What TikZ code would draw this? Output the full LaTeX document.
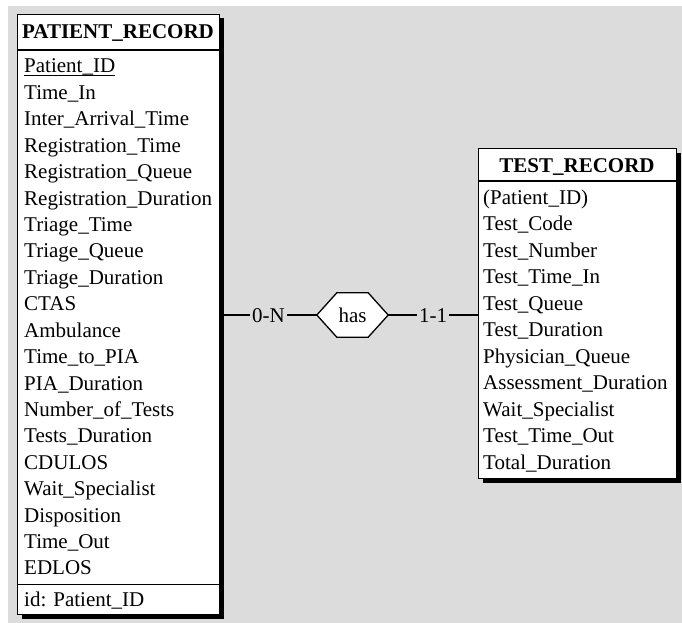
\documentclass[tikz,border=0pt]{standalone}
\usepackage{fontspec}
\setmainfont{Liberation Serif}
\usetikzlibrary{calc}
\definecolor{canvas}{RGB}{220,220,220}
\tikzset{
  erline/.style={line width=1.3pt, draw=black},
  entity/.style={erline, fill=white, inner sep=0pt, anchor=north west},
  shade/.style={fill=black},
  txt/.style={inner sep=0pt, text height=14pt, text depth=0pt,
              font=\fontsize{21}{25}\selectfont},
  attr/.style={txt, anchor=west},
  etitle/.style={txt, font=\fontsize{21}{25}\selectfont\bfseries},
  card/.style={txt, fill=canvas, inner xsep=2pt},
  relframe/.style={inner sep=0pt, minimum width=71pt, minimum height=44pt},
}
\begin{document}
\begin{tikzpicture}[x=1pt,y=-1pt]
\useasboundingbox (0,0) rectangle (682,623);
\fill[canvas] (8,6) rectangle (682,623);

% ---------- PATIENT_RECORD ----------
\fill[shade] (21.5,18.5) rectangle (223.5,618.5);
\node[entity, minimum width=202pt, minimum height=600pt] (pr) at (17,14) {};
\draw[erline] ($(pr.north west)+(0,36)$) -- ($(pr.north east)+(0,36)$);
\draw[erline] ($(pr.south west)+(0,-31)$) -- ($(pr.south east)+(0,-31)$);
\node[etitle] (prtitle) at (118,32) {PATIENT\_RECORD};
\foreach \t [count=\i from 0] in {Patient\_ID, Time\_In, Inter\_Arrival\_Time,
    Registration\_Time, Registration\_Queue, Registration\_Duration,
    Triage\_Time, Triage\_Queue, Triage\_Duration, CTAS, Ambulance,
    Time\_to\_PIA, PIA\_Duration, Number\_of\_Tests, Tests\_Duration,
    CDULOS, Wait\_Specialist, Disposition, Time\_Out, EDLOS}
  \node[attr] (pra\i) at (24,{66+26.42*\i}) {\t};
\draw[line width=1pt] ($(pra0.base west)+(0,2.5)$) -- ($(pra0.base east)+(0,2.5)$);
\node[attr] (prid) at (24,599) {id: Patient\_ID};

% ---------- TEST_RECORD ----------
\fill[shade] (482.5,152.5) rectangle (680.5,482.5);
\node[entity, minimum width=198pt, minimum height=330pt] (tr) at (478,148) {};
\draw[erline] ($(tr.north west)+(0,33)$) -- ($(tr.north east)+(0,33)$);
\node[etitle] (trtitle) at (577,165) {TEST\_RECORD};
\foreach \t [count=\i from 0] in {(Patient\_ID), Test\_Code, Test\_Number,
    Test\_Time\_In, Test\_Queue, Test\_Duration, Physician\_Queue,
    Assessment\_Duration, Wait\_Specialist, Test\_Time\_Out, Total\_Duration}
  \node[attr] (tra\i) at (483,{197+26.5*\i}) {\t};

% ---------- relationship "has" ----------
\node[relframe] (has) at (352.5,315) {};
\draw[erline, fill=white] (has.west) -- ($(has.north west)+(20,0)$)
  -- ($(has.north east)+(-20,0)$) -- (has.east)
  -- ($(has.south east)+(-20,0)$) -- ($(has.south west)+(20,0)$) -- cycle;
\node[txt] (haslabel) at (has) {has};

\draw[erline] (has.west) -- (has.west -| pr.east) node[card, midway] {0-N};
\draw[erline] (has.east) -- (has.east -| tr.west) node[card, midway] {1-1};
\end{tikzpicture}
\end{document}
